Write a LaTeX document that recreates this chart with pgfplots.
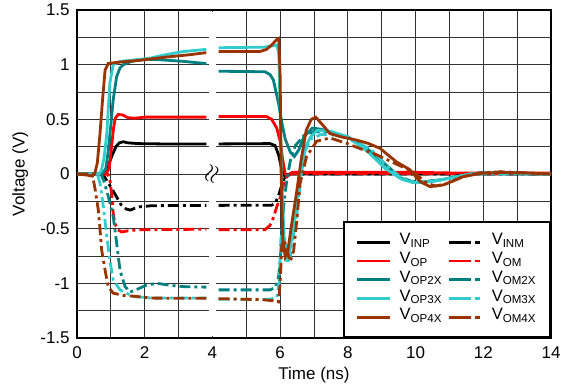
\documentclass[border=0pt]{standalone}
\usepackage{fontspec}
\setmainfont{Liberation Sans}
\usepackage{pgfplots}
\pgfplotsset{compat=1.18}
\definecolor{cteal}{RGB}{0,128,128}
\definecolor{ccyan}{RGB}{51,204,204}
\definecolor{cbrown}{RGB}{153,51,0}
\definecolor{cred}{RGB}{255,0,0}
\begin{document}
\fontsize{17}{20}\selectfont
\begin{tikzpicture}
\begin{axis}[
 name=ax,
 width=474pt, height=328pt, scale only axis,
 xmin=0, xmax=14, ymin=-1.5, ymax=1.5,
 xtick={0,2,...,14}, minor xtick={1,3,...,13},
 ytick={-1.5,-1,-0.5,0,0.5,1,1.5}, minor ytick={-1.25,-0.75,-0.25,0.25,0.75,1.25},
 grid=both,
 major grid style={black!80, line width=0.9pt},
 minor grid style={black!80, line width=0.9pt},
 major tick length=0pt, minor tick length=0pt,
 axis line style={line width=2.5pt},
 tick label style={font=\fontsize{17}{20}\selectfont},
 xticklabel style={yshift=-3pt},
 yticklabel style={xshift=-1.5pt},
 label style={font=\fontsize{17}{20}\selectfont},
 /pgf/number format/assume math mode=true,
 xlabel={Time (ns)}, ylabel={Voltage (V)},
 xlabel style={at={(axis description cs:0.5,-0.113)}, anchor=center},
 ylabel style={at={(axis description cs:-0.12,0.5)}, anchor=center},
 unbounded coords=jump,
 legend columns=2,
 legend cell align=left,
 legend style={at={(rel axis cs:1,0)}, anchor=south east, draw=black, line width=2pt,
   font=\fontsize{16.5}{18}\selectfont, inner xsep=12pt, inner ysep=10.5pt,
   nodes={inner sep=2pt, text height=10pt, text depth=4.7pt},
   /tikz/every odd column/.append style={column sep=6pt},
   /tikz/every even column/.append style={column sep=4pt}},
 legend image code/.code={\draw[#1] (0pt,0pt) -- (33pt,0pt);},
 every axis plot/.append style={line width=2.8pt},
 dd/.style={dash pattern=on 11pt off 4pt on 3pt off 4pt, legend image post style={dash pattern=on 22pt off 4pt on 5pt off 4pt}},
]
\fill[white] (axis cs:3.89,-1.485) rectangle (axis cs:4.11,1.485);
\node[rotate=70, font=\fontsize{25}{25}\selectfont] at (axis cs:4,0) {$\approx$};
% VINP
\addplot[black] coordinates {(0,0)(0.75,0)(0.85,0.03)(0.95,0.1)(1.05,0.18)(1.15,0.25)(1.25,0.285)(1.37,0.295)(1.5,0.285)(1.8,0.278)(2.5,0.275)(3.82,0.275)(4,nan)(4.18,0.275)(5.7,0.278)(5.85,0.26)(5.95,0.18)(6.05,0.04)(6.15,-0.03)(6.3,0.0)(14,0)};
\addlegendentry{V\textsubscript{INP}}
% VINM
\addplot[black,dd] coordinates {(0,0)(0.7,0)(0.8,-0.02)(0.92,-0.08)(1.02,-0.13)(1.17,-0.21)(1.3,-0.28)(1.45,-0.32)(1.57,-0.33)(1.7,-0.315)(1.85,-0.3)(2.2,-0.29)(3.82,-0.287)(4,nan)(4.18,-0.287)(5.75,-0.285)(5.85,-0.27)(5.95,-0.2)(6.05,-0.1)(6.15,-0.01)(6.3,0)(14,0)};
\addlegendentry{V\textsubscript{INM}}
% VOP
\addplot[cred] coordinates {(0,0)(0.85,0)(0.95,0.05)(1.02,0.25)(1.08,0.42)(1.13,0.51)(1.22,0.545)(1.35,0.54)(1.5,0.515)(1.7,0.51)(2.0,0.52)(3.82,0.52)(4,nan)(4.18,0.525)(5.6,0.525)(5.75,0.5)(5.9,0.42)(6.0,0.3)(6.08,0.12)(6.15,0.0)(6.22,-0.02)(6.35,0.015)(10,0.015)(11,0.01)(14,0.01)};
\addlegendentry{V\textsubscript{OP}}
% VOM
\addplot[cred,dd] coordinates {(0,0)(0.9,0)(0.97,-0.05)(1.03,-0.2)(1.07,-0.36)(1.12,-0.45)(1.2,-0.51)(1.32,-0.53)(1.5,-0.52)(1.8,-0.51)(3.82,-0.505)(4,nan)(4.18,-0.51)(5.55,-0.51)(5.7,-0.47)(5.8,-0.4)(5.9,-0.3)(6.0,-0.22)(6.1,-0.1)(6.2,-0.02)(6.3,0.005)(14,0.005)};
\addlegendentry{V\textsubscript{OM}}
% VOP2X
\addplot[cteal] coordinates {(0,0)(0.75,0)(0.85,0.05)(0.92,0.2)(1.0,0.45)(1.07,0.68)(1.17,0.89)(1.27,0.97)(1.37,1.0)(1.6,1.03)(2.0,1.05)(2.45,1.045)(3.14,1.03)(3.82,1.01)(4,nan)(4.18,0.94)(5.55,0.935)(5.7,0.91)(5.8,0.86)(5.95,0.65)(6.05,0.47)(6.15,0.32)(6.3,0.2)(6.42,0.16)(6.55,0.22)(6.7,0.34)(6.95,0.42)(7.2,0.41)(7.5,0.38)(8.0,0.34)(8.5,0.25)(9.0,0.12)(9.5,-0.03)(9.9,-0.075)(10.3,-0.07)(10.8,-0.05)(11.3,-0.02)(11.9,0.01)(12.5,0.015)(13.2,0.005)(14,0)};
\addlegendentry{V\textsubscript{OP2X}}
% VOM2X
\addplot[cteal,dd] coordinates {(0,0)(0.7,0)(0.78,-0.05)(0.92,-0.2)(1.07,-0.39)(1.17,-0.63)(1.27,-0.88)(1.42,-1.03)(1.57,-1.08)(1.81,-1.05)(2.06,-1.015)(2.36,-1.0)(2.8,-1.02)(3.14,-1.03)(3.82,-1.035)(4,nan)(4.18,-1.06)(5.7,-1.06)(5.85,-1.04)(5.95,-0.95)(6.0,-0.8)(6.05,-0.55)(6.1,-0.3)(6.2,-0.05)(6.3,0.12)(6.45,0.26)(6.7,0.35)(7.0,0.39)(7.5,0.37)(8.0,0.33)(8.5,0.24)(9.0,0.12)(9.5,-0.02)(9.9,-0.07)(10.3,-0.07)(10.8,-0.05)(11.3,-0.02)(11.9,0.01)(12.5,0.015)(14,0)};
\addlegendentry{V\textsubscript{OM2X}}
% VOP3X
\addplot[ccyan] coordinates {(0,0)(0.65,0)(0.72,0.03)(0.8,0.15)(0.88,0.37)(0.97,0.83)(1.07,1.0)(1.27,1.03)(1.6,1.04)(2.16,1.06)(2.6,1.09)(3.14,1.12)(3.82,1.14)(4,nan)(4.18,1.155)(5.5,1.16)(5.75,1.17)(5.9,1.18)(5.96,1.1)(6.0,0.6)(6.05,-0.1)(6.12,-0.6)(6.2,-0.76)(6.3,-0.68)(6.45,-0.35)(6.6,0.0)(6.75,0.25)(6.9,0.34)(7.1,0.40)(7.5,0.39)(8.0,0.34)(8.6,0.2)(9.1,0.05)(9.6,-0.05)(9.95,-0.08)(10.4,-0.07)(11.0,-0.04)(11.6,0.0)(12.3,0.015)(13,0.01)(14,0)};
\addlegendentry{V\textsubscript{OP3X}}
% VOM3X
\addplot[ccyan,dd] coordinates {(0,0)(0.6,0)(0.68,-0.085)(0.78,-0.3)(0.88,-0.57)(0.97,-0.79)(1.07,-0.97)(1.27,-1.06)(1.66,-1.12)(2.2,-1.135)(3.82,-1.135)(4,nan)(4.18,-1.145)(5.7,-1.145)(5.9,-1.13)(5.97,-1.0)(6.02,-0.6)(6.08,-0.45)(6.15,-0.62)(6.2,-0.82)(6.3,-0.75)(6.5,-0.35)(6.62,-0.02)(6.72,0.2)(6.9,0.32)(7.2,0.36)(7.5,0.36)(8.0,0.33)(8.7,0.22)(9.2,0.06)(9.6,-0.04)(10.0,-0.08)(10.5,-0.07)(11.0,-0.04)(11.6,0.0)(14,0)};
\addlegendentry{V\textsubscript{OM3X}}
% VOP4X
\addplot[cbrown] coordinates {(0,0)(0.3,-0.01)(0.45,-0.02)(0.52,0.0)(0.6,0.1)(0.68,0.37)(0.76,0.7)(0.83,0.95)(0.92,1.01)(1.15,1.02)(1.86,1.04)(2.65,1.07)(3.3,1.09)(3.82,1.11)(4,nan)(4.18,1.12)(5.4,1.12)(5.6,1.14)(5.75,1.18)(5.9,1.23)(5.96,1.24)(6.0,0.9)(6.03,0.0)(6.08,-0.6)(6.15,-0.76)(6.22,-0.72)(6.33,-0.48)(6.48,-0.18)(6.62,0.13)(6.77,0.40)(6.92,0.5)(7.05,0.52)(7.25,0.45)(7.47,0.37)(7.8,0.34)(8.26,0.31)(8.6,0.28)(8.95,0.235)(9.2,0.17)(9.44,0.11)(9.83,0.04)(10.13,-0.07)(10.43,-0.116)(10.82,-0.10)(11.1,-0.065)(11.4,-0.025)(11.9,0.005)(12.5,0.015)(13.2,0.01)(14,0)};
\addlegendentry{V\textsubscript{OP4X}}
% VOM4X
\addplot[cbrown,dd] coordinates {(0,0)(0.45,0)(0.53,-0.13)(0.63,-0.33)(0.68,-0.51)(0.73,-0.7)(0.83,-0.88)(0.92,-1.03)(1.07,-1.09)(1.37,-1.11)(1.76,-1.12)(2.2,-1.135)(3.82,-1.137)(4,nan)(4.18,-1.14)(5.5,-1.15)(5.8,-1.16)(5.95,-1.17)(6.0,-1.0)(6.05,-0.65)(6.12,-0.6)(6.2,-0.7)(6.3,-0.8)(6.4,-0.7)(6.5,-0.4)(6.59,-0.085)(6.78,0.16)(7.08,0.30)(7.47,0.33)(7.97,0.28)(8.46,0.22)(8.75,0.19)(9.44,0.09)(9.93,0.02)(10.33,-0.085)(10.6,-0.11)(10.9,-0.09)(11.4,-0.025)(11.9,0.01)(12.5,0.02)(13,0.015)(14,0)};
\addlegendentry{V\textsubscript{OM4X}}
\end{axis}
\pgfresetboundingbox
\path ([shift={(-77pt,-54pt)}]ax.south west) rectangle ([shift={(10pt,10pt)}]ax.north east);
\end{tikzpicture}
\end{document}
